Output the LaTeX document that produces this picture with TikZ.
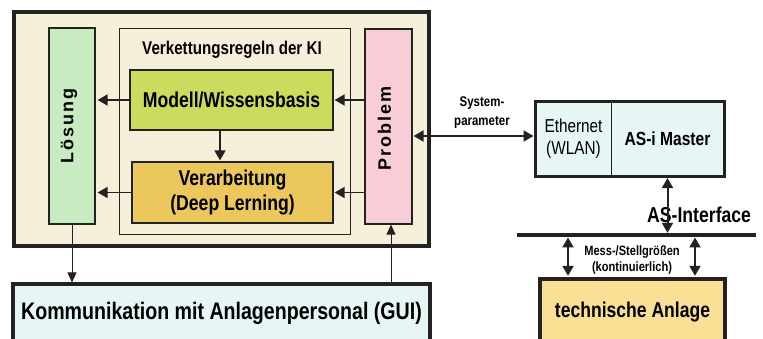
\documentclass[tikz,border=0pt]{standalone}
\usepackage{fontspec}
\setmainfont[FakeStretch=0.82]{Liberation Sans}
\newfontfamily\spacedfont[LetterSpace=11]{Liberation Sans}
\usetikzlibrary{arrows.meta}

\definecolor{kicream}{HTML}{F6F0DA}
\definecolor{kilgreen}{HTML}{C9EBC2}
\definecolor{kiolive}{HTML}{CCDA5E}
\definecolor{kigold}{HTML}{EBC75C}
\definecolor{kipink}{HTML}{F8CDD8}
\definecolor{kiice}{HTML}{E5F6F5}
\definecolor{kisand}{HTML}{FADF94}
\definecolor{kiline}{HTML}{222222}

\begin{document}
\begin{tikzpicture}[x=1pt, y=-1pt,
    box/.style={draw=kiline, line width=1.2pt, inner sep=0pt},
    bigbox/.style={draw=kiline, line width=3.2pt, inner sep=0pt},
    arr/.style={-{Triangle[length=10pt,width=11pt]}, line width=1.6pt, draw=kiline},
    dbl/.style={{Triangle[length=10pt,width=11pt]}-{Triangle[length=10pt,width=11pt]}, line width=2pt, draw=kiline},
    thinarr/.style={-{Triangle[length=10pt,width=9pt]}, line width=1pt, draw=kiline}
]
    \path[use as bounding box, fill=white] (0,0) rectangle (763,339);

    % KI frame
    \node[bigbox, fill=kicream, minimum width=415, minimum height=234] (ki) at (221.5,129) {};
    \node[box, line width=1pt, fill=kicream, minimum width=231, minimum height=206] (regeln) at (234.5,132) {};
    \node[font=\bfseries\fontsize{18.5}{21}\selectfont] (titel) at (232,50) {Verkettungsregeln der KI};

    \node[box, fill=kiolive, minimum width=203, minimum height=60,
          font=\bfseries\fontsize{21.5}{25}\selectfont] (modell) at (231.5,100) {Modell/Wissensbasis};
    \node[box, fill=kigold, minimum width=201, minimum height=61, align=center,
          font=\bfseries\fontsize{21.5}{25}\selectfont] (verarb) at (232.5,192.5) {Verarbeitung\\(Deep Lerning)};

    % side columns
    \node[box, fill=kilgreen, minimum width=46, minimum height=196] (loesung) at (72,126) {};
    \node[rotate=90, font=\spacedfont\bfseries\fontsize{18}{21}\selectfont] (loesungtxt)
          at ([xshift=-3pt]loesung.center) {Lösung};
    \node[box, fill=kipink, minimum width=47, minimum height=195] (problem) at (388.5,126.5) {};
    \node[rotate=90, font=\spacedfont\bfseries\fontsize{18}{21}\selectfont] (problemtxt)
          at ([xshift=-4pt,yshift=-2pt]problem.center) {Problem};

    % arrows inside
    \draw[arr, shorten >=2pt] (modell.west) -- (loesung.east |- modell.west);
    \draw[arr, shorten >=2pt] (verarb.west) -- (loesung.east |- verarb.west);
    \draw[arr, shorten >=1pt] (problem.west |- modell.east) -- (modell.east);
    \draw[arr, shorten >=1pt] (problem.west |- verarb.east) -- (verarb.east);
    \draw[arr, shorten >=1pt] ([xshift=-11.5pt]modell.south) -- ([xshift=-12.5pt]verarb.north);

    % GUI
    \node[bigbox, fill=kiice, minimum width=417, minimum height=58,
          font=\bfseries\fontsize{23.9}{27}\selectfont] (gui) at (221.5,313) {Kommunikation mit Anlagenpersonal (GUI)};
    \draw[thinarr] (loesung.south) -- (loesung.south |- gui.north);
    \draw[thinarr] ([xshift=2.5pt]problem.south |- gui.north) -- ([xshift=2.5pt]problem.south);

    % AS-i master
    \node[box, line width=1pt, fill=kiice, minimum width=75, minimum height=74, align=center,
          font=\fontsize{18.7}{22}\selectfont] (eth) at (573.5,139) {Ethernet\\(WLAN)};
    \node[box, line width=1pt, fill=kiice, minimum width=113, minimum height=74,
          font=\bfseries\fontsize{19}{22}\selectfont] (master) at (667.5,139) {AS-i Master};
    \draw[line width=3.2pt, draw=kiline] (eth.north west) rectangle (master.south east);

    \draw[dbl, shorten <=1pt, shorten >=2pt] (problem.east |- 0,136) -- (eth.west |- 0,136);
    \node[align=center, font=\bfseries\fontsize{14}{19}\selectfont] (syspar) at (482,112.5) {System-\\parameter};

    % bus
    \coordinate (busL) at (517,235);
    \coordinate (busR) at (756,235);
    \draw[line width=4.5pt, draw=kiline] (busL) -- (busR);
    \node[anchor=west, inner sep=0pt, font=\bfseries\fontsize{21.5}{25}\selectfont] (asint) at (647,215) {AS-Interface};
    \draw[dbl, shorten <=1.6pt, shorten >=2.2pt] (master.south) -- (master.south |- busL);

    % technische Anlage
    \node[bigbox, fill=kisand, minimum width=185, minimum height=66,
          font=\bfseries\fontsize{21.4}{25}\selectfont] (anlage) at (632.5,312) {technische Anlage};
    \coordinate (m1) at (568,260);
    \coordinate (m2) at (695,260);
    \draw[dbl, shorten <=2.5pt, shorten >=1.6pt] (m1 |- busL) -- (m1 |- anlage.north);
    \draw[dbl, shorten <=2.5pt, shorten >=1.6pt] (m2 |- busL) -- (m2 |- anlage.north);
    \node[align=center, font=\bfseries\fontsize{13.5}{16}\selectfont] (mess) at (632,260) {Mess-/Stellgrößen\\(kontinuierlich)};
\end{tikzpicture}
\end{document}
